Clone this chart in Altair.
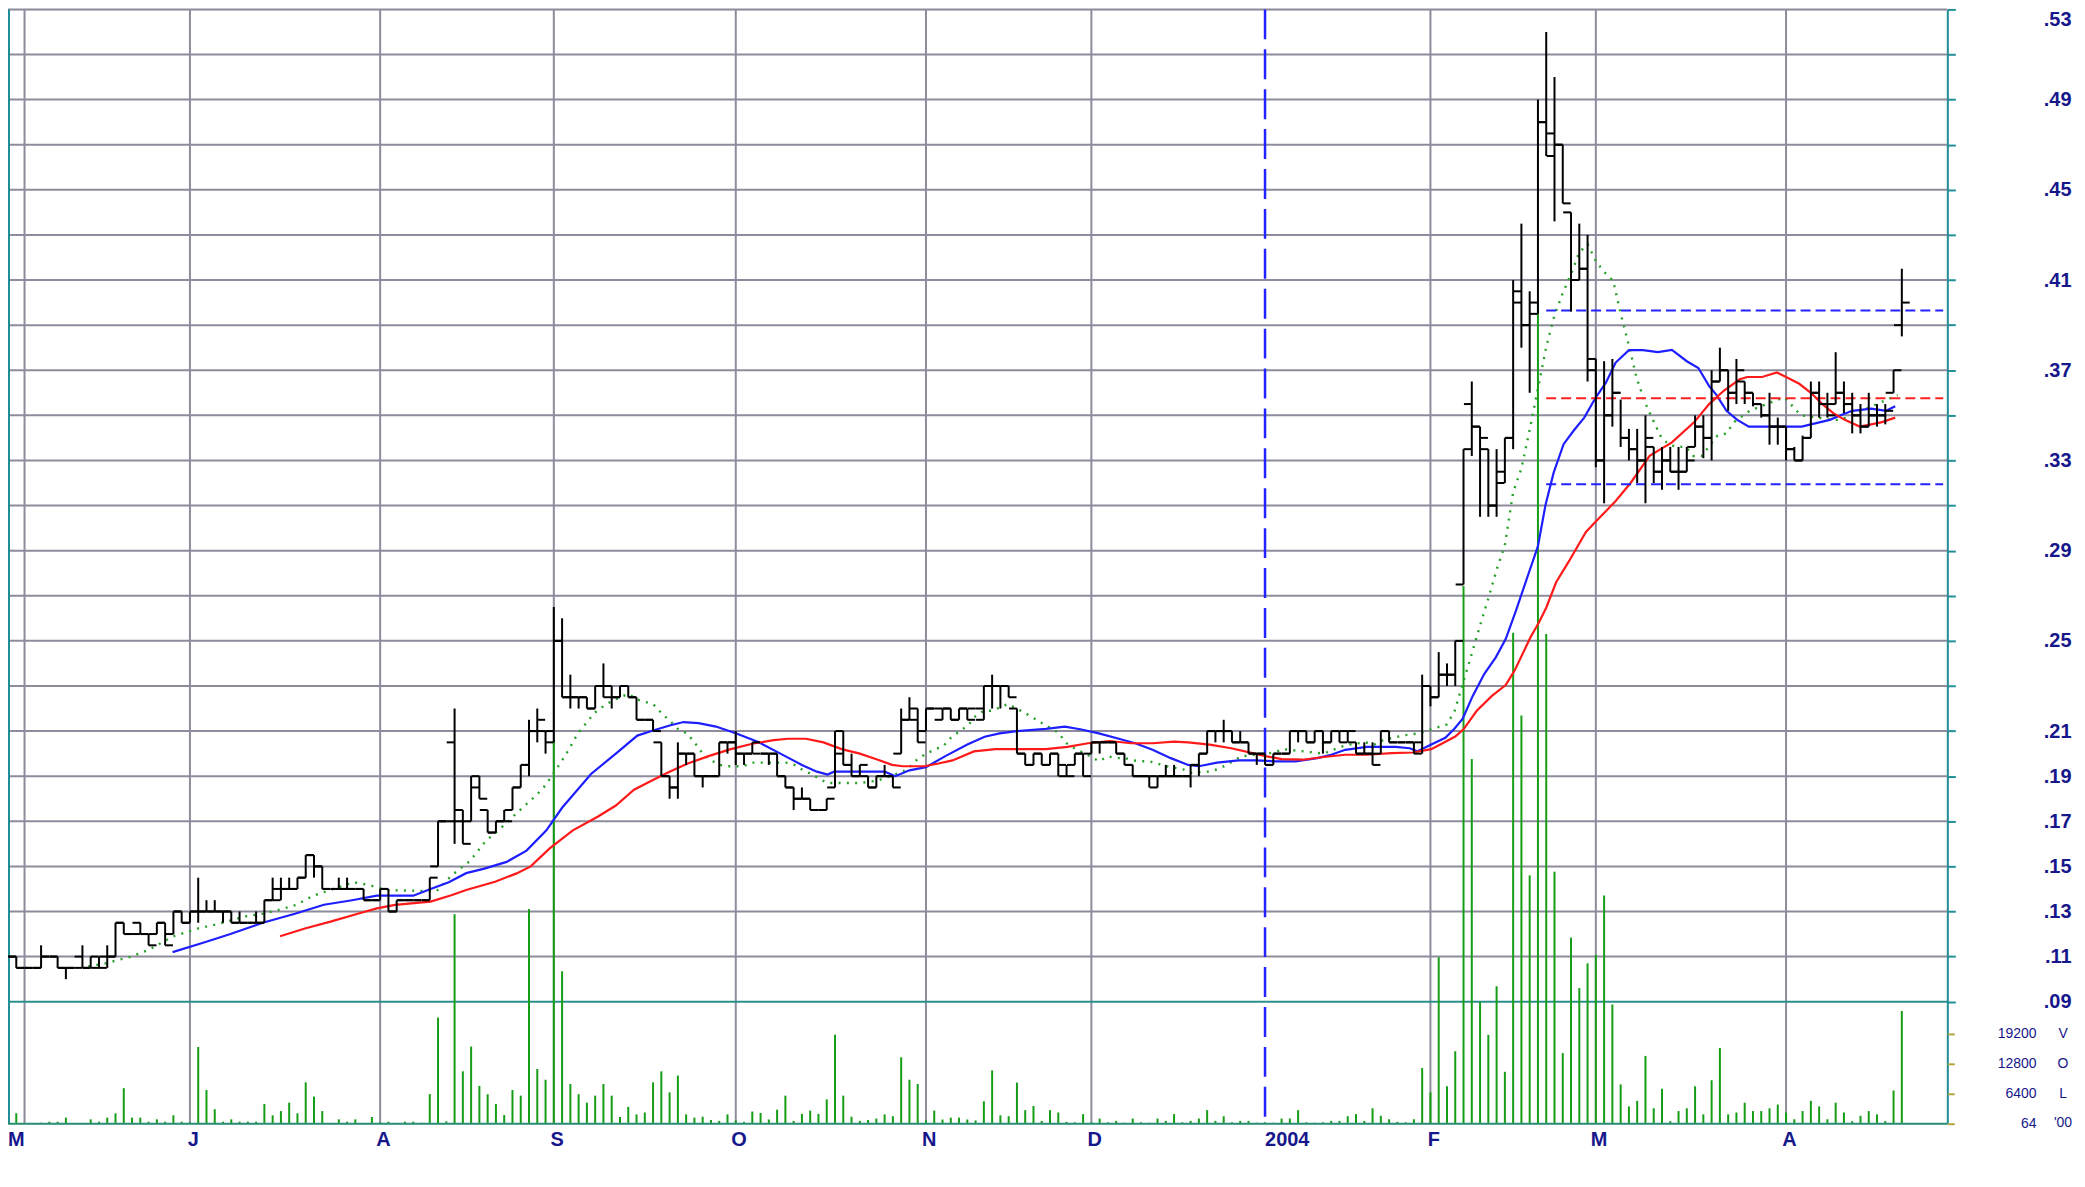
import altair as alt
import pandas as pd

# ---------------- data ----------------
# daily bars, index = trading day (0 .. 229)
opens = [.11,.11,.105,.105,.105,.11,.11,.105,.105,.11,
         .105,.105,.11,.11,.125,.12,.125,.12,.12,.125,
         .12,.13,.125,.13,.13,.13,.13,.13,.125,.125,
         .125,.125,.135,.14,.14,.14,.145,.155,.15,.14,
         .14,.14,.14,.14,.135,.135,.14,.13,.135,.135,
         .135,.135,.15,.17,.205,.175,.17,.19,.175,.165,
         .17,.175,.185,.195,.21,.21,.21,.25,.225,.225,
         .225,.22,.23,.23,.225,.23,.225,.215,.215,.205,
         .19,.185,.20,.20,.19,.19,.19,.205,.205,.20,
         .20,.20,.20,.20,.19,.185,.18,.18,.175,.175,
         .185,.21,.195,.19,.19,.185,.19,.19,.20,.215,
         .22,.21,.22,.215,.22,.215,.22,.22,.215,.23,
         .23,.23,.22,.20,.195,.20,.195,.20,.19,.195,
         .20,.20,.205,.205,.205,.20,.195,.19,.19,.185,
         .19,.19,.19,.19,.195,.20,.21,.21,.21,.205,
         .205,.20,.20,.195,.20,.20,.21,.21,.205,.21,
         .205,.21,.21,.205,.20,.20,.20,.21,.205,.205,
         .205,.205,.23,.225,.235,.235,.275,.355,.345,.335,
         .31,.325,.34,.40,.39,.40,.48,.465,.47,.44,
         .41,.415,.375,.33,.35,.36,.34,.335,.33,.336,
         .325,.33,.325,.325,.336,.345,.34,.365,.37,.36,
         .365,.36,.355,.35,.345,.345,.335,.33,.34,.36,
         .355,.355,.36,.355,.35,.345,.35,.35,.36,.39]
highs = [.11,.11,.105,.105,.115,.11,.11,.105,.105,.115,
         .11,.11,.115,.125,.125,.12,.125,.12,.125,.125,
         .13,.13,.13,.145,.135,.135,.13,.13,.13,.125,
         .13,.135,.145,.145,.145,.145,.155,.155,.15,.14,
         .145,.145,.14,.14,.135,.14,.14,.135,.135,.135,
         .135,.145,.17,.17,.22,.175,.19,.19,.175,.17,
         .175,.185,.195,.215,.22,.21,.265,.26,.235,.225,
         .225,.23,.24,.23,.23,.23,.225,.215,.215,.205,
         .19,.205,.20,.20,.19,.19,.205,.205,.21,.20,
         .205,.20,.20,.20,.19,.185,.185,.18,.175,.18,
         .21,.21,.20,.195,.19,.19,.195,.19,.22,.225,
         .22,.22,.22,.22,.22,.22,.22,.22,.23,.235,
         .23,.23,.22,.20,.20,.20,.20,.20,.195,.20,
         .20,.205,.205,.205,.205,.20,.195,.19,.19,.19,
         .195,.195,.19,.195,.20,.21,.21,.215,.21,.21,
         .205,.20,.20,.20,.20,.21,.21,.21,.21,.21,
         .21,.21,.21,.205,.205,.205,.21,.21,.205,.205,
         .205,.235,.23,.245,.24,.25,.335,.365,.345,.335,
         .335,.34,.41,.435,.405,.49,.52,.50,.47,.44,
         .435,.43,.375,.374,.375,.357,.344,.344,.35,.336,
         .336,.336,.336,.336,.35,.35,.37,.38,.37,.375,
         .365,.36,.355,.36,.349,.345,.336,.341,.365,.365,
         .36,.378,.365,.36,.355,.36,.355,.355,.37,.415]
lows = [.11,.105,.105,.105,.105,.11,.105,.10,.105,.105,
        .105,.105,.105,.11,.12,.12,.12,.115,.12,.115,
        .12,.125,.125,.125,.13,.13,.125,.125,.125,.125,
        .125,.125,.135,.135,.14,.14,.145,.145,.14,.14,
        .14,.14,.14,.135,.135,.135,.13,.13,.135,.135,
        .135,.135,.15,.17,.16,.16,.17,.18,.165,.165,
        .17,.175,.185,.19,.205,.20,.205,.225,.22,.22,
        .22,.22,.225,.22,.225,.225,.215,.215,.21,.19,
        .18,.18,.195,.19,.185,.19,.19,.20,.195,.195,
        .20,.20,.195,.19,.185,.175,.18,.175,.175,.175,
        .185,.195,.19,.19,.185,.185,.19,.185,.20,.215,
        .205,.21,.22,.215,.215,.215,.215,.22,.215,.22,
        .22,.225,.20,.195,.195,.195,.195,.19,.19,.195,
        .19,.20,.20,.205,.20,.195,.19,.19,.185,.185,
        .19,.19,.19,.185,.19,.20,.205,.205,.205,.205,
        .20,.195,.195,.195,.20,.20,.205,.205,.205,.20,
        .205,.205,.205,.20,.20,.195,.20,.205,.205,.205,
        .20,.20,.221,.225,.23,.23,.275,.332,.305,.305,
        .305,.32,.335,.38,.36,.395,.465,.436,.444,.396,
        .41,.365,.327,.311,.345,.336,.33,.32,.311,.32,
        .317,.325,.317,.325,.336,.331,.33,.365,.352,.355,
        .355,.354,.349,.337,.337,.33,.33,.33,.34,.349,
        .349,.355,.351,.342,.342,.345,.345,.346,.36,.385]
closes = [.11,.105,.105,.105,.11,.11,.105,.105,.105,.105,
          .11,.105,.11,.125,.12,.12,.12,.115,.125,.115,
          .13,.125,.13,.13,.13,.13,.13,.125,.125,.125,
          .125,.135,.135,.14,.14,.145,.155,.15,.14,.14,
          .14,.14,.14,.135,.135,.14,.13,.135,.135,.135,
          .135,.145,.17,.17,.17,.16,.185,.18,.165,.17,
          .17,.185,.195,.21,.215,.205,.25,.225,.225,.225,
          .22,.23,.225,.225,.23,.225,.215,.215,.21,.19,
          .185,.20,.20,.19,.19,.19,.205,.205,.20,.20,
          .205,.20,.20,.19,.185,.18,.18,.175,.175,.18,
          .20,.195,.19,.195,.185,.19,.19,.185,.215,.215,
          .205,.22,.22,.22,.215,.22,.215,.22,.23,.23,
          .23,.225,.20,.195,.20,.195,.20,.195,.19,.20,
          .19,.205,.205,.205,.20,.195,.19,.19,.19,.19,
          .19,.19,.19,.195,.20,.21,.21,.21,.205,.205,
          .20,.20,.195,.20,.20,.21,.21,.205,.21,.205,
          .21,.205,.21,.20,.20,.195,.21,.205,.205,.205,
          .20,.23,.225,.235,.235,.25,.335,.345,.34,.31,
          .32,.34,.405,.39,.395,.48,.475,.47,.444,.41,
          .415,.37,.33,.35,.36,.34,.335,.33,.34,.325,
          .33,.325,.325,.33,.345,.34,.365,.37,.36,.37,
          .36,.355,.35,.345,.345,.335,.33,.34,.36,.355,
          .35,.36,.355,.35,.345,.35,.35,.352,.37,.40]
volumes = [300,2230,100,100,200,430,430,1300,100,100,
           935,430,1300,2230,7600,1300,1300,430,935,430,
           1800,430,300,16400,7200,3100,430,935,430,430,
           430,4200,1800,2700,4500,2230,8850,5800,2700,100,
           935,430,935,100,1440,300,430,100,430,430,
           200,6330,22700,500,44800,11200,16500,8100,6300,4200,
           1870,7200,6000,45900,11700,9400,82000,32600,8500,6300,
           4500,6000,8500,6000,1440,3600,2000,2400,8850,11200,
           6700,10300,2000,1300,1500,800,600,2000,700,400,
           2600,2300,900,3000,6000,600,2100,2800,2100,5200,
           19000,6000,1500,600,800,1100,2000,1600,14200,9400,
           8500,700,2800,900,1300,1300,900,700,4800,11400,
           1800,1600,8800,2900,3800,600,2900,2400,400,300,
           2050,300,1100,300,600,200,1100,300,200,1100,
           600,2050,300,600,1100,2900,600,1600,300,600,
           600,200,300,200,1100,1100,2900,300,200,300,
           600,600,1600,2050,600,3300,1700,950,400,300,
           950,11900,6700,35600,8000,15500,115000,78000,26000,19000,
           29400,11100,105000,87300,53100,175500,104700,53900,15100,39800,
           29000,34300,36100,48800,25500,8400,3700,4900,14500,3300,
           7500,550,2700,3300,8000,2000,9300,16200,2000,2400,
           4500,2700,2700,3300,4100,2400,950,2700,4900,3700,
           950,4500,2400,550,1700,2700,2000,550,7100,24100]

# moving averages (day, value)
blue_day = [19.9,23.5,26.9,30.8,34.7,38.2,41.6,44.6,49.0,51.1,53.3,55.4,57.6,60.3,62.7,65.1,67.0,
            70.5,73.5,76.1,77.8,80.0,81.7,83.5,85.6,88.0,90.8,93.4,96.0,97.8,99.1,99.9,102.1,103.8,
            106.0,107.3,109.0,111.0,113.4,116.0,118.1,119.9,122.0,125.5,127.8,129.8,131.9,134.1,136.3,
            138.4,140.6,142.7,144.0,146.2,148.8,150.9,153.1,155.7,158.3,160.0,161.7,164.3,167.8,169.5,
            170.4,172.1,173.8,174.9,175.9,177.1,178.5,179.9,181.1,182.3,183.9,185.0,185.9,186.9,188.1,
            189.4,190.6,192.0,193.2,194.4,196.0,197.7,199.5,201.2,203.0,204.4,205.7,206.6,207.8,209.1,
            210.5,212.1,214.8,216.9,218.0,220.3,221.6,223.0,225.3,227.1,228.2]
blue_val = [.112,.116,.120,.125,.129,.133,.135,.137,.137,.140,.143,.147,.149,.152,.157,.166,.176,
            .191,.200,.208,.210,.2125,.214,.2135,.212,.209,.205,.200,.195,.192,.1907,.192,.192,.192,
            .192,.190,.1926,.194,.199,.204,.2075,.209,.210,.211,.212,.2107,.209,.2068,.2046,
            .2017,.198,.195,.1944,.196,.197,.197,.1966,.1966,.198,.1995,.2017,.203,.203,.2024,
            .201,.204,.207,.211,.2155,.2255,.2353,.2427,.2508,.263,.2802,.292,.310,.3246,.3372,
            .3436,.349,.358,.3644,.3734,.3789,.3789,.378,.379,.374,.371,.363,.359,.352,.348,
            .345,.345,.345,.345,.346,.348,.350,.352,.353,.352,.354]
red_day = [32.9,36.0,39.0,42.5,44.6,46.8,51.1,53.7,55.4,58.9,61.5,63.2,65.5,68.3,71.3,73.5,75.7,77.8,
           80.0,82.2,84.8,87.4,90.0,92.6,94.3,96.5,98.6,100.8,103.0,105.1,106.9,108.2,110.8,112.5,114.2,
           116.8,119.4,122.4,125.5,128.1,130.6,133.2,135.8,138.4,141.0,142.7,145.3,147.9,150.5,152.2,
           154.0,156.6,159.1,161.7,164.3,167.3,169.9,172.1,172.9,175.0,176.0,177.6,179.4,181.1,182.2,
           184.1,185.1,186.0,187.2,188.7,190.8,192.0,194.4,196.2,198.5,201.2,203.9,205.7,207.5,209.4,
           210.3,212.1,213.9,215.0,216.6,218.0,219.4,220.7,222.1,223.9,225.3,226.6,228.2]
red_val = [.119,.1226,.1255,.1292,.1314,.1329,.1344,.1373,.1395,.1432,.1469,.150,.158,.166,.172,.177,
           .184,.188,.192,.1956,.199,.202,.2044,.206,.2066,.2066,.205,.202,.200,.1974,.195,.1944,.1944,
           .1956,.197,.201,.202,.202,.202,.203,.2046,.2056,.2046,.2046,.2053,.205,.204,.2024,.2002,
           .1988,.1976,.1973,.1985,.1995,.1995,.2002,.2005,.202,.2035,.2076,.2108,.219,.2255,.2304,
           .237,.2516,.258,.2647,.276,.285,.2983,.3029,.312,.320,.332,.338,.347,.355,.361,.366,.367,
           .367,.369,.367,.364,.360,.355,.351,.348,.345,.346,.347,.349]
green_day = [9.7,11.8,14.9,17.0,20.0,23.1,25.2,28.7,30.8,33.0,34.9,36.9,41.8,43.8,45.7,51.8,53.7,55.9,
             57.7,59.6,61.8,64.0,65.0,67.0,68.0,68.9,69.9,70.9,72.0,73.1,75.0,76.1,77.0,78.0,79.0,80.0,
             81.1,82.1,83.0,84.0,85.0,86.1,86.9,88.9,90.0,91.1,93.0,94.1,95.1,96.0,97.1,98.0,99.1,
             100.2,102.1,103.0,105.1,108.2,109.0,110.1,112.1,113.0,114.0,115.1,116.1,117.0,118.0,119.0,
             120.9,123.0,125.0,127.0,128.0,129.1,130.9,131.9,133.0,134.1,135.1,136.0,137.0,138.0,140.1,
             142.1,143.1,145.1,146.2,147.2,148.3,149.1,152.1,153.1,154.2,159.1,161.1,162.2,164.1,165.2,
             166.3,168.6,170.6,174.0,174.9,177.0,178.0,179.0,180.0,181.0,182.0,183.0,184.0,186.0,187.0,
             188.0,189.0,190.0,191.0,192.1,193.1,194.1,195.0,196.0,196.9,197.9,198.9,199.8,200.8,201.9,
             202.9,203.8,204.8,206.7,207.8,208.7,210.6,214.8,215.8,216.8,220.7,221.6,228.5]
green_val = [.1056,.107,.110,.113,.119,.1226,.1243,.1278,.129,.131,.133,.137,.143,.1416,.1395,.139,.1462,
             .1525,.161,.167,.1746,.182,.186,.197,.203,.209,.2135,.218,.221,.2235,.2265,.224,.223,.222,
             .218,.2147,.2106,.209,.205,.200,.197,.195,.1944,.1944,.196,.196,.196,.196,.195,.193,.191,
             .189,.187,.187,.187,.187,.188,.192,.194,.198,.202,.203,.207,.210,.2126,.2166,.219,.219,
             .222,.218,.2136,.2093,.2046,.202,.1988,.1966,.1988,.198,.198,.197,.1966,.1966,.1944,
             .193,.1915,.192,.193,.1947,.197,.1988,.200,.2005,.202,.200,.203,.204,.205,.204,
             .206,.208,.209,.213,.2187,.2443,.2568,.2688,.2815,.2924,.3159,.3264,.3436,.3803,.3943,
             .4042,.4127,.4223,.4259,.4178,.4133,.4096,.3952,.381,.367,.356,.348,.341,.337,.336,
             .336,.332,.332,.341,.342,.347,.352,.358,.354,.350,.348,.348,.359]

# horizontal reference levels drawn on the right part
level_vals = [0.3965, 0.3576, 0.3194]
level_kind = ["upper", "mid", "lower"]
level_from, level_to = 186, 234

# month boundaries (trading-day index) and their labels
month_day = [2, 22, 45, 66, 88, 111, 131, 152, 172, 192, 215]
month_lab = ["M", "J", "A", "S", "O", "N", "D", "2004", "F", "M", "A"]

price_ticks = [round(0.09 + 0.02 * i, 2) for i in range(23)]
vol_ticks = [64, 6400, 12800, 19200]
vol_letters = ["'00", "L", "O", "V"]

# ---------------- chart ----------------
W, H = 1944, 1117
NAVY = "#17178c"
TEAL = "#1f8e96"
GRID = "#8d8b9c"
FONT = "Liberation Sans"

xs = alt.Scale(domain=[0, 234.5], nice=False, zero=False)
ps = alt.Scale(domain=[0.0359, 0.53], nice=False, zero=False)
vs = alt.Scale(domain=[0, 238300], nice=False, zero=False)
NOX = alt.Axis(labels=False, ticks=False, domain=False, grid=False, title=None)

bars = pd.DataFrame({"d": list(range(len(closes))), "o": opens, "h": highs,
                     "l": lows, "c": closes, "v": volumes})

label_expr = ("(datum.value < 0.205 || abs(round(datum.value*100) - 21) % 4 == 0) ? "
              "replace(format(datum.value, '.2f'), '0.', '.') : ''")
price_axis = alt.Axis(orient="right", values=price_ticks, labelExpr=label_expr, title=None,
                      grid=False, domainColor=TEAL, domainWidth=2, tickColor=TEAL, tickWidth=2,
                      tickSize=8, labelFont=FONT, labelFontWeight="bold", labelFontSize=20,
                      labelColor=NAVY, labelAlign="right", labelPadding=116,
                      labelOverlap=False, labelFlush=True)
vol_axis = alt.Axis(orient="right", values=vol_ticks, title=None, grid=False, domain=False,
                    tickColor="#b3a640", tickWidth=2, tickSize=7, labelFont=FONT,
                    labelFontSize=14, labelColor=NAVY, labelAlign="right", labelPadding=82,
                    labelOverlap=False, labelFlush=False, format="d", labelBaseline="middle")

hgrid = alt.Chart(pd.DataFrame({"p": price_ticks[1:]})).mark_rule(
    color=GRID, strokeWidth=2).encode(y=alt.Y("p:Q", scale=ps, axis=price_axis))
sep = alt.Chart(pd.DataFrame({"p": price_ticks[:1]})).mark_rule(
    color="#2b8f8c", strokeWidth=2).encode(y=alt.Y("p:Q", scale=ps, axis=None))

months = pd.DataFrame({"d": month_day, "lab": month_lab})
vgrid = alt.Chart(months).transform_filter("datum.lab != '2004'").mark_rule(
    color=GRID, strokeWidth=2).encode(x=alt.X("d:Q", scale=xs, axis=NOX))
yearline = alt.Chart(months).transform_filter("datum.lab == '2004'").mark_rule(
    color="#2323ff", strokeWidth=2.5, strokeDash=[30, 10]).encode(x=alt.X("d:Q", scale=xs, axis=NOX))
left_border = alt.Chart(months).transform_filter("datum.d == 2").mark_rule(
    color=TEAL, strokeWidth=2).encode(x=alt.value(1))

mlabels = alt.Chart(months).transform_filter("datum.lab != '2004'").transform_calculate(
    lx="datum.d < 5 ? datum.d - 1.0 : datum.d + 0.4").mark_text(
    font=FONT, fontWeight="bold", fontSize=20, color=NAVY, align="center", baseline="middle").encode(
    x=alt.X("lx:Q", scale=xs, axis=NOX), y=alt.value(H + 16), text="lab:N")
ylabel = alt.Chart(months).transform_filter("datum.lab == '2004'").mark_text(
    font=FONT, fontWeight="bold", fontSize=20, color=NAVY, align="left", baseline="middle").encode(
    x=alt.X("d:Q", scale=xs, axis=NOX), y=alt.value(H + 16), text="lab:N")

vol = alt.Chart(bars).transform_calculate(z="0").mark_rule(
    color="#159e15", strokeWidth=2).encode(
    x=alt.X("d:Q", scale=xs, axis=NOX), y=alt.Y("v:Q", scale=vs, axis=vol_axis), y2="z:Q")
base = alt.Chart(pd.DataFrame({"z": [0]})).mark_rule(color="#2b8f78", strokeWidth=2).encode(
    y=alt.Y("z:Q", scale=vs, axis=None))
letters = alt.Chart(pd.DataFrame({"v": vol_ticks, "t": vol_letters})).mark_text(
    font=FONT, fontSize=14, color=NAVY, align="center", baseline="middle").encode(
    y=alt.Y("v:Q", scale=vs, axis=None), x=alt.value(W + 116), text="t:N")

def ma(days, vals, **kw):
    return alt.Chart(pd.DataFrame({"d": days, "p": vals})).mark_line(**kw).encode(
        x=alt.X("d:Q", scale=xs, axis=NOX), y=alt.Y("p:Q", scale=ps, axis=None), order="d:Q")

green = ma(green_day, green_val, color="#26a026", strokeWidth=2.4, strokeDash=[2, 6.3])
blue = ma(blue_day, blue_val, color="#1e1eff", strokeWidth=2.2)
red = ma(red_day, red_val, color="#ff1a1a", strokeWidth=2.2)

levels = alt.Chart(pd.DataFrame({"p": level_vals, "k": level_kind})).transform_calculate(
    d1=str(level_from), d2=str(level_to)).mark_rule(strokeWidth=2, strokeDash=[10, 5]).encode(
    x=alt.X("d1:Q", scale=xs, axis=NOX), x2="d2:Q", y=alt.Y("p:Q", scale=ps, axis=None),
    color=alt.Color("k:N", scale=alt.Scale(domain=level_kind,
                                           range=["#2323ff", "#ff2020", "#2323ff"]), legend=None))

wick = alt.Chart(bars).mark_rule(color="black", strokeWidth=2).encode(
    x=alt.X("d:Q", scale=xs, axis=NOX), y=alt.Y("l:Q", scale=ps, axis=None), y2="h:Q")
otick = alt.Chart(bars).transform_calculate(xl="datum.d - 0.95").mark_rule(
    color="black", strokeWidth=2).encode(
    x=alt.X("xl:Q", scale=xs, axis=NOX), x2="d:Q", y=alt.Y("o:Q", scale=ps, axis=None))
ctick = alt.Chart(bars).transform_calculate(xr="datum.d + 0.95").mark_rule(
    color="black", strokeWidth=2).encode(
    x=alt.X("d:Q", scale=xs, axis=NOX), x2="xr:Q", y=alt.Y("c:Q", scale=ps, axis=None))

chart = alt.layer(
    hgrid, vgrid, sep, left_border, vol, base, letters, yearline,
    green, blue, red, levels, wick, otick, ctick, mlabels, ylabel
).resolve_scale(y="independent").properties(
    width=W, height=H,
    autosize=alt.AutoSizeParams(type="none"),
    padding={"left": 0, "top": 0, "right": 130, "bottom": 45}
).configure_view(stroke=None).configure(background="white")

chart.save("out.html", embed_options={"renderer": "svg", "actions": False})
